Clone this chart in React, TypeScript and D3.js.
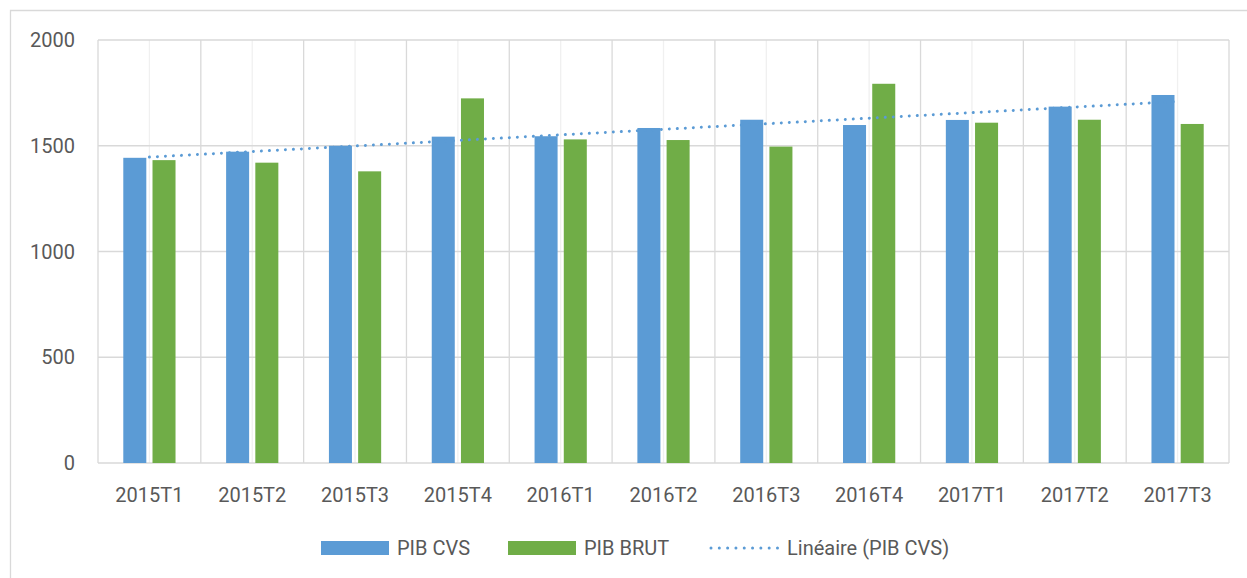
import { useEffect, useRef } from 'react'
import * as d3 from 'd3'

const categories = ['2015T1', '2015T2', '2015T3', '2015T4', '2016T1', '2016T2', '2016T3', '2016T4', '2017T1', '2017T2', '2017T3']
const pibCvs = [1443, 1472, 1500, 1543, 1545, 1584, 1623, 1598, 1622, 1685, 1740]
const pibBrut = [1432, 1420, 1379, 1724, 1530, 1527, 1496, 1793, 1609, 1623, 1603]
const yTicks = [0, 500, 1000, 1500, 2000]

const seriesNames = ['PIB CVS', 'PIB BRUT']
const colors = ['#5B9BD5', '#70AD47']

export default function App() {
  const svgRef = useRef<SVGSVGElement>(null)
  const width = 1247
  const height = 578

  useEffect(() => {
    if (!svgRef.current) return
    const svg = d3.select(svgRef.current)
    svg.selectAll('*').remove()

    const margin = { top: 40, right: 18, bottom: 115, left: 98 }
    const font = 'Roboto, sans-serif'
    const textColor = '#595959'
    const gridColor = '#d9d9d9'

    // chart area border (runs off the right and bottom edges)
    svg.append('path')
      .attr('d', `M${width + 2},10.5 H10.5 V${height + 2}`)
      .attr('fill', 'none')
      .attr('stroke', gridColor)
      .attr('stroke-width', 1.3)

    const x = d3.scaleBand()
      .domain(categories)
      .range([margin.left, width - margin.right])
      .paddingInner(0)
      .paddingOuter(0)

    const step = x.bandwidth()
    const xSub = d3.scaleBand()
      .domain(seriesNames)
      .range([step * 0.246, step * 0.754])
      .paddingInner(0.212)

    const y = d3.scaleLinear()
      .domain([0, 2000])
      .range([height - margin.bottom, margin.top])

    const g = svg.append('g')

    // minor vertical gridlines at category centers
    g.selectAll('.minor')
      .data(categories)
      .enter()
      .append('line')
      .attr('x1', d => (x(d) || 0) + step / 2)
      .attr('x2', d => (x(d) || 0) + step / 2)
      .attr('y1', y(2000))
      .attr('y2', y(0))
      .attr('stroke', '#f0f0f0')
      .attr('stroke-width', 1.3)

    // major vertical gridlines at category boundaries
    const bounds = categories.map(c => x(c) || 0).concat([width - margin.right])
    g.selectAll('.major')
      .data(bounds)
      .enter()
      .append('line')
      .attr('x1', d => d)
      .attr('x2', d => d)
      .attr('y1', y(2000))
      .attr('y2', y(0))
      .attr('stroke', gridColor)
      .attr('stroke-width', 1.3)

    // horizontal gridlines
    g.selectAll('.hgrid')
      .data(yTicks)
      .enter()
      .append('line')
      .attr('x1', margin.left)
      .attr('x2', width - margin.right)
      .attr('y1', d => y(d))
      .attr('y2', d => y(d))
      .attr('stroke', gridColor)
      .attr('stroke-width', 1.5)

    // y labels
    g.selectAll('.ylabel')
      .data(yTicks)
      .enter()
      .append('text')
      .attr('x', 75)
      .attr('y', d => y(d))
      .attr('dy', '0.35em')
      .attr('text-anchor', 'end')
      .attr('font-family', font)
      .attr('font-size', 20)
      .attr('fill', textColor)
      .text(d => d)

    // x labels
    g.selectAll('.xlabel')
      .data(categories)
      .enter()
      .append('text')
      .attr('x', d => (x(d) || 0) + step / 2)
      .attr('y', y(0) + 32)
      .attr('dy', '0.35em')
      .attr('text-anchor', 'middle')
      .attr('font-family', font)
      .attr('font-size', 20)
      .attr('fill', textColor)
      .text(d => d)

    // bars
    const rows = categories.flatMap((c, i) => [
      { cat: c, key: seriesNames[0], value: pibCvs[i], color: colors[0] },
      { cat: c, key: seriesNames[1], value: pibBrut[i], color: colors[1] }
    ])
    g.selectAll('.bar')
      .data(rows)
      .enter()
      .append('rect')
      .attr('x', d => (x(d.cat) || 0) + (xSub(d.key) || 0))
      .attr('y', d => y(d.value))
      .attr('width', xSub.bandwidth())
      .attr('height', d => y(0) - y(d.value))
      .attr('fill', d => d.color)

    // linear trend of PIB CVS
    const idx = pibCvs.map((_, i) => i + 1)
    const mx = d3.mean(idx) || 0
    const my = d3.mean(pibCvs) || 0
    const sxy = d3.sum(idx, (v, i) => (v - mx) * (pibCvs[i] - my))
    const sxx = d3.sum(idx, v => (v - mx) * (v - mx))
    const slope = sxy / sxx
    const intercept = my - slope * mx
    const trend = idx.map((v, i) => ({ cat: categories[i], value: intercept + slope * v }))
    const trendEnds = [trend[0], trend[trend.length - 1]]

    const line = d3.line<{ cat: string; value: number }>()
      .x(d => (x(d.cat) || 0) + step / 2)
      .y(d => y(d.value))

    g.append('path')
      .datum(trendEnds)
      .attr('d', line)
      .attr('fill', 'none')
      .attr('stroke', colors[0])
      .attr('stroke-width', 3)
      .attr('stroke-linecap', 'round')
      .attr('stroke-dasharray', '0.01 8')

    // legend
    const legend = svg.append('g').attr('transform', 'translate(0, 548)')
    const items = [
      { label: 'PIB CVS', x: 321, type: 'rect', color: colors[0] },
      { label: 'PIB BRUT', x: 508, type: 'rect', color: colors[1] },
      { label: 'Linéaire (PIB CVS)', x: 711, type: 'line', color: colors[0] }
    ]
    items.forEach(item => {
      if (item.type === 'rect') {
        legend.append('rect')
          .attr('x', item.x)
          .attr('y', -7)
          .attr('width', 68)
          .attr('height', 14)
          .attr('fill', item.color)
      } else {
        legend.append('line')
          .attr('x1', item.x)
          .attr('x2', item.x + 67)
          .attr('y1', 0)
          .attr('y2', 0)
          .attr('stroke', item.color)
          .attr('stroke-width', 3)
          .attr('stroke-linecap', 'round')
          .attr('stroke-dasharray', '0.01 8.3')
      }
      legend.append('text')
        .attr('x', item.x + (item.type === 'rect' ? 76 : 76))
        .attr('y', 0)
        .attr('dy', '0.35em')
        .attr('font-family', font)
        .attr('font-size', 20)
        .attr('fill', textColor)
        .text(item.label)
    })
  }, [])

  return (
    <div style={{ position: 'absolute', left: 0, top: 0, width, height, background: '#fff' }}>
      <svg ref={svgRef} width={width} height={height} style={{ display: 'block' }} />
    </div>
  )
}
